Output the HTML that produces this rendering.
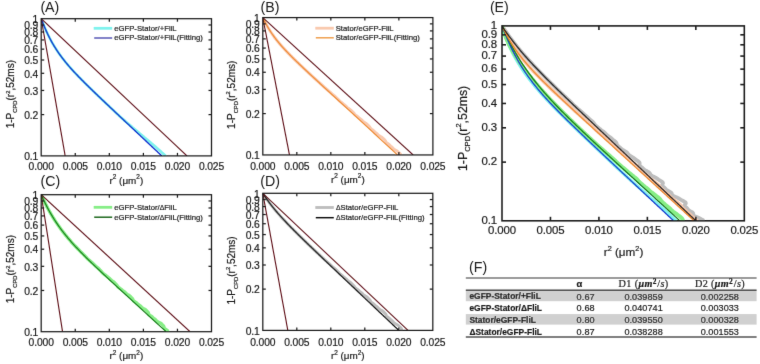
<!DOCTYPE html>
<html><head><meta charset="utf-8"><style>
html,body{margin:0;padding:0;background:#fff;}
body{width:760px;height:364px;overflow:hidden;font-family:"Liberation Sans", sans-serif;}
svg{display:block;will-change:transform;}
text{stroke:#1a1a1a;stroke-width:0.2px;}
</style></head><body><svg width="760" height="364" viewBox="0 0 760 364" font-family='"Liberation Sans", sans-serif' fill="#1a1a1a"><defs><filter id="soft" filterUnits="userSpaceOnUse" x="0" y="0" width="760" height="364"><feConvolveMatrix order="3" kernelMatrix="0.0049 0.0602 0.0049 0.0602 0.7396 0.0602 0.0049 0.0602 0.0049" edgeMode="none" preserveAlpha="false"/></filter></defs><rect width="760" height="364" fill="#fff"/><g filter="url(#soft)"><clipPath id="clipA"><rect x="41.20" y="17.70" width="170.30" height="138.20"/></clipPath><g clip-path="url(#clipA)"><path d="M41.20,18.70 L41.88,20.50 L42.56,22.25 L43.24,23.96 L43.92,25.62 L44.61,27.24 L45.29,28.82 L45.97,30.36 L46.65,31.85 L47.33,33.31 L48.01,34.73 L48.69,36.11 L49.37,37.46 L50.06,38.78 L50.74,40.06 L51.42,41.31 L52.10,42.54 L52.78,43.73 L53.46,44.89 L54.14,46.03 L54.82,47.15 L55.51,48.24 L56.19,49.31 L56.87,50.35 L57.55,51.37 L58.23,52.38 L58.91,53.36 L59.59,54.33 L60.27,55.28 L60.95,56.21 L61.64,57.12 L62.32,58.02 L63.00,58.91 L63.68,59.79 L64.36,60.65 L65.04,61.49 L65.72,62.33 L66.40,63.16 L67.09,63.97 L67.77,64.78 L68.45,65.58 L69.13,66.36 L69.81,67.14 L70.49,67.92 L71.17,68.68 L71.85,69.44 L72.54,70.19 L73.22,70.93 L73.90,71.67 L74.58,72.40 L75.26,73.13 L75.94,73.86 L76.62,74.57 L77.30,75.29 L77.98,76.00 L78.67,76.70 L79.35,77.40 L80.03,78.10 L80.71,78.80 L81.39,79.49 L82.07,80.18 L82.75,80.86 L83.43,81.54 L84.12,82.22 L84.80,82.90 L85.48,83.58 L86.16,84.25 L86.84,84.93 L87.52,85.60 L88.20,86.26 L88.88,86.93 L89.57,87.60 L90.25,88.26 L90.93,88.92 L91.61,89.58 L92.29,90.24 L92.97,90.90 L93.65,91.56 L94.33,92.22 L95.01,92.87 L95.70,93.53 L96.38,94.18 L97.06,94.83 L97.74,95.49 L98.42,96.14 L99.10,96.79 L99.78,97.44 L100.46,98.09 L101.15,98.74 L101.83,99.39 L102.51,100.03 L103.19,100.68 L103.87,101.33 L104.55,101.97 L105.23,102.62 L105.91,103.27 L106.60,103.91 L107.28,104.56 L107.96,105.20 L108.64,105.85 L109.32,106.49 L110.00,107.14 L110.68,107.78 L111.36,108.42 L112.04,109.07 L112.73,109.71 L113.41,110.35 L114.09,111.00 L114.77,111.64 L115.45,112.28 L116.13,112.92 L116.82,113.57 L117.50,114.21 L118.20,114.85 L118.90,115.49 L119.60,116.14 L120.30,116.78 L121.01,117.42 L121.73,118.06 L122.45,118.70 L123.17,119.34 L123.89,119.98 L124.62,120.63 L125.36,121.27 L126.09,121.91 L126.83,122.55 L127.57,123.19 L128.31,123.83 L129.06,124.47 L129.81,125.11 L130.56,125.75 L131.31,126.39 L132.06,127.03 L132.82,127.67 L133.58,128.32 L134.34,128.96 L135.10,129.60 L135.86,130.24 L136.62,130.88 L137.38,131.52 L138.15,132.16 L138.91,132.80 L139.67,133.44 L140.44,134.08 L141.20,134.72 L141.97,135.36 L142.73,136.00 L143.50,136.64 L144.26,137.28 L145.03,137.92 L145.79,138.56 L146.55,139.20 L147.31,139.84 L148.07,140.48 L148.83,141.12 L149.58,141.76 L150.34,142.40 L151.09,143.04 L151.84,143.68 L152.59,144.32 L153.33,144.96 L154.08,145.60 L154.82,146.24 L155.56,146.88 L156.29,147.52 L157.02,148.16 L157.75,148.80 L158.48,149.44 L159.20,150.08 L159.92,150.72 L160.63,151.36 L161.34,152.00 L162.05,152.64 L162.75,153.28 L163.45,153.92 L164.15,154.56 L164.83,155.20 L165.52,155.84 L165.58,155.90" fill="none" stroke="#7ff3ee" stroke-width="2.7" stroke-linejoin="round"/><path d="M41.20,18.70 L41.88,20.50 L42.56,22.25 L43.24,23.96 L43.92,25.62 L44.61,27.24 L45.29,28.82 L45.97,30.36 L46.65,31.85 L47.33,33.31 L48.01,34.73 L48.69,36.11 L49.37,37.46 L50.06,38.78 L50.74,40.06 L51.42,41.31 L52.10,42.54 L52.78,43.73 L53.46,44.89 L54.14,46.03 L54.82,47.15 L55.51,48.24 L56.19,49.31 L56.87,50.35 L57.55,51.37 L58.23,52.38 L58.91,53.36 L59.59,54.33 L60.27,55.28 L60.95,56.21 L61.64,57.12 L62.32,58.02 L63.00,58.91 L63.68,59.79 L64.36,60.65 L65.04,61.49 L65.72,62.33 L66.40,63.16 L67.09,63.97 L67.77,64.78 L68.45,65.58 L69.13,66.36 L69.81,67.14 L70.49,67.92 L71.17,68.68 L71.85,69.44 L72.54,70.19 L73.22,70.93 L73.90,71.67 L74.58,72.40 L75.26,73.13 L75.94,73.86 L76.62,74.57 L77.30,75.29 L77.98,76.00 L78.67,76.70 L79.35,77.40 L80.03,78.10 L80.71,78.80 L81.39,79.49 L82.07,80.18 L82.75,80.86 L83.43,81.54 L84.12,82.22 L84.80,82.90 L85.48,83.58 L86.16,84.25 L86.84,84.93 L87.52,85.60 L88.20,86.26 L88.88,86.93 L89.57,87.60 L90.25,88.26 L90.93,88.92 L91.61,89.58 L92.29,90.24 L92.97,90.90 L93.65,91.56 L94.33,92.22 L95.01,92.87 L95.70,93.53 L96.38,94.18 L97.06,94.83 L97.74,95.49 L98.42,96.14 L99.10,96.79 L99.78,97.44 L100.46,98.09 L101.15,98.74 L101.83,99.39 L102.51,100.03 L103.19,100.68 L103.87,101.33 L104.55,101.97 L105.23,102.62 L105.91,103.27 L106.60,103.91 L107.28,104.56 L107.96,105.20 L108.64,105.85 L109.32,106.49 L110.00,107.14 L110.68,107.78 L111.36,108.42 L112.04,109.07 L112.73,109.71 L113.41,110.35 L114.09,111.00 L114.77,111.64 L115.45,112.28 L116.13,112.92 L116.81,113.57 L117.49,114.21 L118.18,114.85 L118.86,115.49 L119.54,116.14 L120.22,116.78 L120.90,117.42 L121.58,118.06 L122.26,118.70 L122.94,119.34 L123.63,119.98 L124.31,120.63 L124.99,121.27 L125.67,121.91 L126.35,122.55 L127.03,123.19 L127.71,123.83 L128.39,124.47 L129.07,125.11 L129.76,125.75 L130.44,126.39 L131.12,127.03 L131.80,127.67 L132.48,128.32 L133.16,128.96 L133.84,129.60 L134.52,130.24 L135.21,130.88 L135.89,131.52 L136.57,132.16 L137.25,132.80 L137.93,133.44 L138.61,134.08 L139.29,134.72 L139.97,135.36 L140.66,136.00 L141.34,136.64 L142.02,137.28 L142.70,137.92 L143.38,138.56 L144.06,139.20 L144.74,139.84 L145.42,140.48 L146.10,141.12 L146.79,141.76 L147.47,142.40 L148.15,143.04 L148.83,143.68 L149.51,144.32 L150.19,144.96 L150.87,145.60 L151.55,146.24 L152.24,146.88 L152.92,147.52 L153.60,148.16 L154.28,148.80 L154.96,149.44 L155.64,150.08 L156.32,150.72 L157.00,151.36 L157.69,152.00 L158.37,152.64 L159.05,153.28 L159.73,153.92 L160.41,154.56 L161.09,155.20 L161.77,155.84 L161.83,155.90" fill="none" stroke="#0c2cd0" stroke-width="1.40"/><line x1="41.20" y1="18.70" x2="65.18" y2="155.90" stroke="#5e1016" stroke-width="1.1"/><line x1="41.20" y1="18.70" x2="186.98" y2="155.90" stroke="#5e1016" stroke-width="1.1"/></g><line x1="93.70" y1="28.30" x2="112.20" y2="28.30" stroke="#7ff3ee" stroke-width="2.8"/><line x1="94.20" y1="38.00" x2="112.20" y2="38.00" stroke="#5a5ab6" stroke-width="1.5"/><g font-size="8.1"><text transform="translate(114.20,30.70) scale(0.955,1)">eGFP-Stator/+FliL</text><text transform="translate(114.20,40.40) scale(0.955,1)">eGFP-Stator/+FliL(Fitting)</text></g><g stroke="#1e1e1e" stroke-width="1.25"><line x1="75.26" y1="155.90" x2="75.26" y2="152.90"/><line x1="75.26" y1="18.70" x2="75.26" y2="21.70"/><line x1="109.32" y1="155.90" x2="109.32" y2="152.90"/><line x1="109.32" y1="18.70" x2="109.32" y2="21.70"/><line x1="143.38" y1="155.90" x2="143.38" y2="152.90"/><line x1="143.38" y1="18.70" x2="143.38" y2="21.70"/><line x1="177.44" y1="155.90" x2="177.44" y2="152.90"/><line x1="177.44" y1="18.70" x2="177.44" y2="21.70"/><line x1="41.20" y1="114.60" x2="44.20" y2="114.60"/><line x1="211.50" y1="114.60" x2="208.50" y2="114.60"/><line x1="41.20" y1="90.44" x2="44.20" y2="90.44"/><line x1="211.50" y1="90.44" x2="208.50" y2="90.44"/><line x1="41.20" y1="73.30" x2="44.20" y2="73.30"/><line x1="211.50" y1="73.30" x2="208.50" y2="73.30"/><line x1="41.20" y1="60.00" x2="44.20" y2="60.00"/><line x1="211.50" y1="60.00" x2="208.50" y2="60.00"/><line x1="41.20" y1="49.14" x2="44.20" y2="49.14"/><line x1="211.50" y1="49.14" x2="208.50" y2="49.14"/><line x1="41.20" y1="39.95" x2="44.20" y2="39.95"/><line x1="211.50" y1="39.95" x2="208.50" y2="39.95"/><line x1="41.20" y1="32.00" x2="44.20" y2="32.00"/><line x1="211.50" y1="32.00" x2="208.50" y2="32.00"/><line x1="41.20" y1="24.98" x2="44.20" y2="24.98"/><line x1="211.50" y1="24.98" x2="208.50" y2="24.98"/><rect x="41.20" y="18.70" width="170.30" height="137.20" fill="none"/></g><g font-size="10.30" letter-spacing="-0.12"><text x="38.12" y="22.91" text-anchor="end">1</text><text x="38.12" y="29.19" text-anchor="end">0.9</text><text x="38.12" y="36.20" text-anchor="end">0.8</text><text x="38.12" y="44.16" text-anchor="end">0.7</text><text x="38.12" y="53.35" text-anchor="end">0.6</text><text x="38.12" y="64.21" text-anchor="end">0.5</text><text x="38.12" y="77.51" text-anchor="end">0.4</text><text x="38.12" y="94.65" text-anchor="end">0.3</text><text x="38.12" y="118.81" text-anchor="end">0.2</text><text x="38.12" y="160.11" text-anchor="end">0.1</text><text x="41.20" y="170.00" text-anchor="middle">0.000</text><text x="75.26" y="170.00" text-anchor="middle">0.005</text><text x="109.32" y="170.00" text-anchor="middle">0.010</text><text x="143.38" y="170.00" text-anchor="middle">0.015</text><text x="177.44" y="170.00" text-anchor="middle">0.020</text><text x="211.50" y="170.00" text-anchor="middle">0.025</text></g><text x="40.40" y="11.80" font-size="14.2" style="stroke:none">(A)</text><text transform="translate(14.00,128.30) rotate(-90)" font-size="10.00">1-P<tspan font-size="5.80" dy="3.00">CPD</tspan><tspan dy="-3.00">(r</tspan><tspan font-size="5.80" dy="-4.20">2</tspan><tspan dy="4.20">,52ms)</tspan></text><text x="126.35" y="183.50" font-size="9.90" text-anchor="middle">r<tspan font-size="6.40" dy="-4.16">2</tspan><tspan dy="4.16"> (μm</tspan><tspan font-size="6.40" dy="-4.16">2</tspan><tspan dy="4.16">)</tspan></text><clipPath id="clipB"><rect x="262.80" y="16.60" width="170.10" height="138.35"/></clipPath><g clip-path="url(#clipB)"><path d="M262.80,17.60 L263.48,19.03 L264.16,20.41 L264.84,21.75 L265.52,23.05 L266.20,24.31 L266.88,25.54 L267.56,26.73 L268.24,27.89 L268.92,29.02 L269.60,30.11 L270.28,31.19 L270.96,32.23 L271.65,33.25 L272.33,34.24 L273.01,35.21 L273.69,36.17 L274.37,37.10 L275.05,38.01 L275.73,38.90 L276.41,39.78 L277.09,40.64 L277.77,41.49 L278.45,42.32 L279.13,43.14 L279.81,43.95 L280.49,44.75 L281.17,45.53 L281.85,46.31 L282.53,47.07 L283.21,47.83 L283.89,48.58 L284.57,49.32 L285.25,50.05 L285.93,50.77 L286.61,51.49 L287.29,52.21 L287.97,52.91 L288.66,53.62 L289.34,54.31 L290.02,55.01 L290.70,55.69 L291.38,56.38 L292.06,57.06 L292.74,57.74 L293.42,58.41 L294.10,59.08 L294.78,59.75 L295.46,60.41 L296.14,61.07 L296.82,61.73 L297.50,62.39 L298.18,63.04 L298.86,63.70 L299.54,64.35 L300.22,65.00 L300.90,65.65 L301.58,66.29 L302.26,66.94 L302.94,67.58 L303.62,68.23 L304.30,68.87 L304.99,69.51 L305.67,70.15 L306.35,70.79 L307.04,71.43 L307.72,72.06 L308.40,72.70 L309.09,73.34 L309.77,73.97 L310.47,74.61 L311.16,75.24 L311.85,75.87 L312.55,76.51 L313.24,77.14 L313.94,77.77 L314.64,78.40 L315.33,79.03 L316.02,79.66 L316.71,80.29 L317.42,80.92 L318.14,81.55 L318.85,82.18 L319.54,82.81 L320.23,83.44 L320.91,84.07 L321.61,84.70 L322.29,85.33 L322.95,85.96 L323.61,86.59 L324.28,87.21 L325.00,87.84 L325.74,88.47 L326.49,89.10 L327.21,89.72 L327.92,90.35 L328.64,90.98 L329.38,91.61 L330.11,92.23 L330.80,92.86 L331.47,93.49 L332.17,94.11 L332.93,94.74 L333.71,95.37 L334.47,95.99 L335.18,96.62 L335.84,97.25 L336.51,97.87 L337.20,98.50 L337.86,99.13 L338.46,99.75 L339.04,100.38 L339.68,101.01 L340.42,101.63 L341.22,102.26 L342.02,102.89 L342.76,103.51 L343.47,104.14 L344.22,104.76 L345.00,105.39 L345.76,106.02 L346.44,106.64 L347.09,107.27 L347.79,107.90 L348.62,108.52 L349.50,109.15 L350.33,109.77 L351.04,110.40 L351.68,111.03 L352.33,111.65 L353.00,112.28 L353.62,112.90 L354.14,113.53 L354.62,114.16 L355.19,114.78 L355.94,115.41 L356.80,116.03 L357.64,116.66 L358.37,117.29 L359.07,117.91 L359.82,118.54 L360.63,119.16 L361.41,119.79 L362.07,120.42 L362.68,121.04 L363.40,121.67 L364.30,122.29 L365.29,122.92 L366.20,123.55 L366.93,124.17 L367.56,124.80 L368.20,125.42 L368.86,126.05 L369.44,126.68 L369.87,127.30 L370.24,127.93 L370.74,128.55 L371.49,129.18 L372.38,129.81 L373.22,130.43 L373.93,131.06 L374.58,131.68 L375.32,132.31 L376.13,132.94 L376.90,133.56 L377.53,134.19 L378.11,134.81 L378.83,135.44 L379.80,136.07 L380.89,136.69 L381.87,137.32 L382.63,137.94 L383.26,138.57 L383.90,139.19 L384.57,139.82 L385.13,140.45 L385.50,141.07 L385.78,141.70 L386.23,142.32 L386.95,142.95 L387.85,143.58 L388.67,144.20 L389.33,144.83 L389.93,145.45 L390.61,146.08 L391.40,146.71 L392.14,147.33 L392.73,147.96 L393.27,148.58 L393.98,149.21 L394.98,149.84 L396.13,150.46 L397.15,151.09 L397.94,151.71 L398.58,152.34 L399.23,152.97 L399.91,153.59 L400.47,154.22 L400.82,154.84 L400.86,154.95" fill="none" stroke="#f9c9ae" stroke-width="3.0" stroke-linejoin="round"/><path d="M262.80,17.60 L263.48,19.03 L264.16,20.41 L264.84,21.75 L265.52,23.05 L266.20,24.31 L266.88,25.54 L267.56,26.73 L268.24,27.89 L268.92,29.02 L269.60,30.11 L270.28,31.19 L270.96,32.23 L271.65,33.25 L272.33,34.24 L273.01,35.21 L273.69,36.17 L274.37,37.10 L275.05,38.01 L275.73,38.90 L276.41,39.78 L277.09,40.64 L277.77,41.49 L278.45,42.32 L279.13,43.14 L279.81,43.95 L280.49,44.75 L281.17,45.53 L281.85,46.31 L282.53,47.07 L283.21,47.83 L283.89,48.58 L284.57,49.32 L285.25,50.05 L285.93,50.77 L286.61,51.49 L287.29,52.21 L287.97,52.91 L288.66,53.62 L289.34,54.31 L290.02,55.01 L290.70,55.69 L291.38,56.38 L292.06,57.06 L292.74,57.74 L293.42,58.41 L294.10,59.08 L294.78,59.75 L295.46,60.41 L296.14,61.07 L296.82,61.73 L297.50,62.39 L298.18,63.04 L298.86,63.70 L299.54,64.35 L300.22,65.00 L300.90,65.65 L301.58,66.29 L302.26,66.94 L302.94,67.58 L303.62,68.23 L304.30,68.87 L304.98,69.51 L305.67,70.15 L306.35,70.79 L307.03,71.43 L307.71,72.06 L308.39,72.70 L309.07,73.34 L309.75,73.97 L310.43,74.61 L311.11,75.24 L311.79,75.87 L312.47,76.51 L313.15,77.14 L313.83,77.77 L314.51,78.40 L315.19,79.03 L315.87,79.66 L316.55,80.29 L317.23,80.92 L317.91,81.55 L318.59,82.18 L319.27,82.81 L319.95,83.44 L320.63,84.07 L321.31,84.70 L321.99,85.33 L322.68,85.96 L323.36,86.59 L324.04,87.21 L324.72,87.84 L325.40,88.47 L326.08,89.10 L326.76,89.72 L327.44,90.35 L328.12,90.98 L328.80,91.61 L329.48,92.23 L330.16,92.86 L330.84,93.49 L331.52,94.11 L332.20,94.74 L332.88,95.37 L333.56,95.99 L334.24,96.62 L334.92,97.25 L335.60,97.87 L336.28,98.50 L336.96,99.13 L337.64,99.75 L338.32,100.38 L339.00,101.01 L339.69,101.63 L340.37,102.26 L341.05,102.89 L341.73,103.51 L342.41,104.14 L343.09,104.76 L343.77,105.39 L344.45,106.02 L345.13,106.64 L345.81,107.27 L346.49,107.90 L347.17,108.52 L347.85,109.15 L348.53,109.77 L349.21,110.40 L349.89,111.03 L350.57,111.65 L351.25,112.28 L351.93,112.90 L352.61,113.53 L353.29,114.16 L353.97,114.78 L354.65,115.41 L355.33,116.03 L356.01,116.66 L356.70,117.29 L357.38,117.91 L358.06,118.54 L358.74,119.16 L359.42,119.79 L360.10,120.42 L360.78,121.04 L361.46,121.67 L362.14,122.29 L362.82,122.92 L363.50,123.55 L364.18,124.17 L364.86,124.80 L365.54,125.42 L366.22,126.05 L366.90,126.68 L367.58,127.30 L368.26,127.93 L368.94,128.55 L369.62,129.18 L370.30,129.81 L370.98,130.43 L371.66,131.06 L372.34,131.68 L373.02,132.31 L373.71,132.94 L374.39,133.56 L375.07,134.19 L375.75,134.81 L376.43,135.44 L377.11,136.07 L377.79,136.69 L378.47,137.32 L379.15,137.94 L379.83,138.57 L380.51,139.19 L381.19,139.82 L381.87,140.45 L382.55,141.07 L383.23,141.70 L383.91,142.32 L384.59,142.95 L385.27,143.58 L385.95,144.20 L386.63,144.83 L387.31,145.45 L387.99,146.08 L388.67,146.71 L389.35,147.33 L390.03,147.96 L390.72,148.58 L391.40,149.21 L392.08,149.84 L392.76,150.46 L393.44,151.09 L394.12,151.71 L394.80,152.34 L395.48,152.97 L396.16,153.59 L396.84,154.22 L397.52,154.84 L397.64,154.95" fill="none" stroke="#ee8a2c" stroke-width="1.20"/><line x1="262.80" y1="17.60" x2="289.47" y2="154.95" stroke="#5e1016" stroke-width="1.1"/><line x1="262.80" y1="17.60" x2="413.17" y2="154.95" stroke="#5e1016" stroke-width="1.1"/></g><line x1="315.30" y1="28.20" x2="333.80" y2="28.20" stroke="#f9c9ae" stroke-width="2.8"/><line x1="315.80" y1="37.80" x2="333.80" y2="37.80" stroke="#f0a050" stroke-width="1.5"/><g font-size="8.1"><text transform="translate(335.70,30.60) scale(0.955,1)">Stator/eGFP-FliL</text><text transform="translate(335.70,40.20) scale(0.955,1)">Stator/eGFP-FliL(Fitting)</text></g><g stroke="#1e1e1e" stroke-width="1.25"><line x1="296.82" y1="154.95" x2="296.82" y2="151.95"/><line x1="296.82" y1="17.60" x2="296.82" y2="20.60"/><line x1="330.84" y1="154.95" x2="330.84" y2="151.95"/><line x1="330.84" y1="17.60" x2="330.84" y2="20.60"/><line x1="364.86" y1="154.95" x2="364.86" y2="151.95"/><line x1="364.86" y1="17.60" x2="364.86" y2="20.60"/><line x1="398.88" y1="154.95" x2="398.88" y2="151.95"/><line x1="398.88" y1="17.60" x2="398.88" y2="20.60"/><line x1="262.80" y1="113.60" x2="265.80" y2="113.60"/><line x1="432.90" y1="113.60" x2="429.90" y2="113.60"/><line x1="262.80" y1="89.42" x2="265.80" y2="89.42"/><line x1="432.90" y1="89.42" x2="429.90" y2="89.42"/><line x1="262.80" y1="72.26" x2="265.80" y2="72.26"/><line x1="432.90" y1="72.26" x2="429.90" y2="72.26"/><line x1="262.80" y1="58.95" x2="265.80" y2="58.95"/><line x1="432.90" y1="58.95" x2="429.90" y2="58.95"/><line x1="262.80" y1="48.07" x2="265.80" y2="48.07"/><line x1="432.90" y1="48.07" x2="429.90" y2="48.07"/><line x1="262.80" y1="38.88" x2="265.80" y2="38.88"/><line x1="432.90" y1="38.88" x2="429.90" y2="38.88"/><line x1="262.80" y1="30.91" x2="265.80" y2="30.91"/><line x1="432.90" y1="30.91" x2="429.90" y2="30.91"/><line x1="262.80" y1="23.88" x2="265.80" y2="23.88"/><line x1="432.90" y1="23.88" x2="429.90" y2="23.88"/><rect x="262.80" y="17.60" width="170.10" height="137.35" fill="none"/></g><g font-size="10.30" letter-spacing="-0.12"><text x="259.72" y="21.81" text-anchor="end">1</text><text x="259.72" y="28.09" text-anchor="end">0.9</text><text x="259.72" y="35.12" text-anchor="end">0.8</text><text x="259.72" y="43.08" text-anchor="end">0.7</text><text x="259.72" y="52.28" text-anchor="end">0.6</text><text x="259.72" y="63.15" text-anchor="end">0.5</text><text x="259.72" y="76.47" text-anchor="end">0.4</text><text x="259.72" y="93.63" text-anchor="end">0.3</text><text x="259.72" y="117.81" text-anchor="end">0.2</text><text x="259.72" y="159.16" text-anchor="end">0.1</text><text x="262.80" y="170.00" text-anchor="middle">0.000</text><text x="296.82" y="170.00" text-anchor="middle">0.005</text><text x="330.84" y="170.00" text-anchor="middle">0.010</text><text x="364.86" y="170.00" text-anchor="middle">0.015</text><text x="398.88" y="170.00" text-anchor="middle">0.020</text><text x="432.90" y="170.00" text-anchor="middle">0.025</text></g><text x="260.60" y="11.80" font-size="14.2" style="stroke:none">(B)</text><text transform="translate(234.60,128.90) rotate(-90)" font-size="10.00">1-P<tspan font-size="5.80" dy="3.00">CPD</tspan><tspan dy="-3.00">(r</tspan><tspan font-size="5.80" dy="-4.20">2</tspan><tspan dy="4.20">,52ms)</tspan></text><text x="347.85" y="182.60" font-size="9.90" text-anchor="middle">r<tspan font-size="6.40" dy="-4.16">2</tspan><tspan dy="4.16"> (μm</tspan><tspan font-size="6.40" dy="-4.16">2</tspan><tspan dy="4.16">)</tspan></text><clipPath id="clipC"><rect x="41.20" y="193.70" width="170.30" height="138.00"/></clipPath><g clip-path="url(#clipC)"><path d="M41.20,194.70 L41.88,196.23 L42.56,197.73 L43.24,199.19 L43.92,200.63 L44.61,202.05 L45.29,203.43 L45.97,204.79 L46.65,206.12 L47.33,207.43 L48.01,208.71 L48.69,209.96 L49.37,211.20 L50.06,212.41 L50.74,213.60 L51.42,214.76 L52.10,215.91 L52.78,217.03 L53.46,218.14 L54.14,219.22 L54.82,220.29 L55.51,221.34 L56.19,222.37 L56.87,223.39 L57.55,224.39 L58.23,225.37 L58.91,226.34 L59.59,227.29 L60.27,228.23 L60.95,229.16 L61.64,230.08 L62.32,230.98 L63.00,231.87 L63.68,232.74 L64.37,233.61 L65.05,234.47 L65.74,235.31 L66.42,236.15 L67.11,236.98 L67.80,237.79 L68.48,238.60 L69.17,239.40 L69.85,240.20 L70.54,240.98 L71.22,241.76 L71.89,242.53 L72.57,243.29 L73.27,244.05 L73.98,244.80 L74.69,245.55 L75.40,246.29 L76.10,247.02 L76.80,247.75 L77.52,248.48 L78.22,249.20 L78.91,249.91 L79.58,250.63 L80.26,251.33 L80.97,252.04 L81.71,252.74 L82.43,253.43 L83.11,254.12 L83.78,254.81 L84.45,255.50 L85.13,256.18 L85.79,256.86 L86.43,257.54 L87.04,258.22 L87.70,258.89 L88.44,259.56 L89.23,260.23 L90.01,260.89 L90.75,261.56 L91.47,262.22 L92.21,262.88 L92.98,263.54 L93.71,264.19 L94.38,264.85 L95.01,265.50 L95.69,266.15 L96.46,266.80 L97.28,267.45 L98.05,268.10 L98.73,268.75 L99.35,269.39 L99.98,270.04 L100.64,270.68 L101.27,271.32 L101.80,271.96 L102.31,272.60 L102.92,273.24 L103.69,273.88 L104.57,274.52 L105.44,275.16 L106.21,275.79 L106.93,276.43 L107.71,277.06 L108.53,277.70 L109.30,278.33 L109.95,278.96 L110.54,279.60 L111.22,280.23 L112.07,280.86 L113.01,281.49 L113.86,282.12 L114.54,282.75 L115.12,283.38 L115.71,284.01 L116.34,284.64 L116.90,285.27 L117.32,285.90 L117.68,286.53 L118.21,287.15 L119.00,287.78 L119.96,288.41 L120.88,289.04 L121.66,289.66 L122.37,290.29 L123.17,290.92 L124.04,291.54 L124.85,292.17 L125.48,292.79 L126.03,293.42 L126.72,294.04 L127.67,294.67 L128.75,295.29 L129.71,295.92 L130.40,296.54 L130.94,297.17 L131.51,297.79 L132.12,298.42 L132.63,299.04 L132.92,299.67 L133.13,300.29 L133.56,300.91 L134.35,301.54 L135.36,302.16 L136.31,302.78 L137.06,303.41 L137.73,304.03 L138.51,304.65 L139.41,305.28 L140.23,305.90 L140.84,306.52 L141.35,307.15 L142.06,307.77 L143.12,308.39 L144.34,309.02 L145.40,309.64 L146.13,310.26 L146.67,310.88 L147.24,311.51 L147.85,312.13 L148.31,312.75 L148.51,313.37 L148.60,314.00 L148.94,314.62 L149.70,315.24 L150.73,315.86 L151.66,316.49 L152.36,317.11 L152.96,317.73 L153.71,318.35 L154.59,318.98 L155.40,319.60 L155.96,320.22 L156.44,320.84 L157.17,321.46 L158.30,322.09 L159.63,322.71 L160.77,323.33 L161.55,323.95 L162.12,324.57 L162.71,325.20 L163.34,325.82 L163.80,326.44 L163.95,327.06 L163.98,327.68 L164.26,328.31 L165.00,328.93 L166.00,329.55 L166.89,330.17 L167.52,330.79 L168.05,331.42 L168.33,331.70" fill="none" stroke="#86ee86" stroke-width="3.4" stroke-linejoin="round"/><path d="M41.20,194.70 L41.88,196.23 L42.56,197.73 L43.24,199.19 L43.92,200.63 L44.61,202.05 L45.29,203.43 L45.97,204.79 L46.65,206.12 L47.33,207.43 L48.01,208.71 L48.69,209.96 L49.37,211.20 L50.06,212.41 L50.74,213.60 L51.42,214.76 L52.10,215.91 L52.78,217.03 L53.46,218.14 L54.14,219.22 L54.82,220.29 L55.51,221.34 L56.19,222.37 L56.87,223.39 L57.55,224.39 L58.23,225.37 L58.91,226.34 L59.59,227.29 L60.27,228.23 L60.95,229.16 L61.64,230.08 L62.32,230.98 L63.00,231.87 L63.68,232.74 L64.36,233.61 L65.04,234.47 L65.72,235.31 L66.40,236.15 L67.09,236.98 L67.77,237.79 L68.45,238.60 L69.13,239.40 L69.81,240.20 L70.49,240.98 L71.17,241.76 L71.85,242.53 L72.54,243.29 L73.22,244.05 L73.90,244.80 L74.58,245.55 L75.26,246.29 L75.94,247.02 L76.62,247.75 L77.30,248.48 L77.98,249.20 L78.67,249.91 L79.35,250.63 L80.03,251.33 L80.71,252.04 L81.39,252.74 L82.07,253.43 L82.75,254.12 L83.43,254.81 L84.12,255.50 L84.80,256.18 L85.48,256.86 L86.16,257.54 L86.84,258.22 L87.52,258.89 L88.20,259.56 L88.88,260.23 L89.57,260.89 L90.25,261.56 L90.93,262.22 L91.61,262.88 L92.29,263.54 L92.97,264.19 L93.65,264.85 L94.33,265.50 L95.01,266.15 L95.70,266.80 L96.38,267.45 L97.06,268.10 L97.74,268.75 L98.42,269.39 L99.10,270.04 L99.78,270.68 L100.46,271.32 L101.15,271.96 L101.83,272.60 L102.51,273.24 L103.19,273.88 L103.87,274.52 L104.55,275.16 L105.23,275.79 L105.91,276.43 L106.60,277.06 L107.28,277.70 L107.96,278.33 L108.64,278.96 L109.32,279.60 L110.00,280.23 L110.68,280.86 L111.36,281.49 L112.04,282.12 L112.73,282.75 L113.41,283.38 L114.09,284.01 L114.77,284.64 L115.45,285.27 L116.13,285.90 L116.81,286.53 L117.49,287.15 L118.18,287.78 L118.86,288.41 L119.54,289.04 L120.22,289.66 L120.90,290.29 L121.58,290.92 L122.26,291.54 L122.94,292.17 L123.63,292.79 L124.31,293.42 L124.99,294.04 L125.67,294.67 L126.35,295.29 L127.03,295.92 L127.71,296.54 L128.39,297.17 L129.07,297.79 L129.76,298.42 L130.44,299.04 L131.12,299.67 L131.80,300.29 L132.48,300.91 L133.16,301.54 L133.84,302.16 L134.52,302.78 L135.21,303.41 L135.89,304.03 L136.57,304.65 L137.25,305.28 L137.93,305.90 L138.61,306.52 L139.29,307.15 L139.97,307.77 L140.66,308.39 L141.34,309.02 L142.02,309.64 L142.70,310.26 L143.38,310.88 L144.06,311.51 L144.74,312.13 L145.42,312.75 L146.10,313.37 L146.79,314.00 L147.47,314.62 L148.15,315.24 L148.83,315.86 L149.51,316.49 L150.19,317.11 L150.87,317.73 L151.55,318.35 L152.24,318.98 L152.92,319.60 L153.60,320.22 L154.28,320.84 L154.96,321.46 L155.64,322.09 L156.32,322.71 L157.00,323.33 L157.69,323.95 L158.37,324.57 L159.05,325.20 L159.73,325.82 L160.41,326.44 L161.09,327.06 L161.77,327.68 L162.45,328.31 L163.13,328.93 L163.82,329.55 L164.50,330.17 L165.18,330.79 L165.86,331.42 L166.17,331.70" fill="none" stroke="#0c7810" stroke-width="1.15"/><line x1="41.20" y1="194.70" x2="62.52" y2="331.70" stroke="#5e1016" stroke-width="1.1"/><line x1="41.20" y1="194.70" x2="190.04" y2="331.70" stroke="#5e1016" stroke-width="1.1"/></g><line x1="93.70" y1="207.30" x2="112.20" y2="207.30" stroke="#86ee86" stroke-width="2.8"/><line x1="94.20" y1="217.20" x2="112.20" y2="217.20" stroke="#1c6a1c" stroke-width="1.5"/><g font-size="8.1"><text transform="translate(114.20,209.70) scale(0.955,1)">eGFP-Stator/<tspan font-size="7.2">Δ</tspan>FliL</text><text transform="translate(114.20,219.60) scale(0.955,1)">eGFP-Stator/<tspan font-size="7.2">Δ</tspan>FliL(Fitting)</text></g><g stroke="#1e1e1e" stroke-width="1.25"><line x1="75.26" y1="331.70" x2="75.26" y2="328.70"/><line x1="75.26" y1="194.70" x2="75.26" y2="197.70"/><line x1="109.32" y1="331.70" x2="109.32" y2="328.70"/><line x1="109.32" y1="194.70" x2="109.32" y2="197.70"/><line x1="143.38" y1="331.70" x2="143.38" y2="328.70"/><line x1="143.38" y1="194.70" x2="143.38" y2="197.70"/><line x1="177.44" y1="331.70" x2="177.44" y2="328.70"/><line x1="177.44" y1="194.70" x2="177.44" y2="197.70"/><line x1="41.20" y1="290.46" x2="44.20" y2="290.46"/><line x1="211.50" y1="290.46" x2="208.50" y2="290.46"/><line x1="41.20" y1="266.33" x2="44.20" y2="266.33"/><line x1="211.50" y1="266.33" x2="208.50" y2="266.33"/><line x1="41.20" y1="249.22" x2="44.20" y2="249.22"/><line x1="211.50" y1="249.22" x2="208.50" y2="249.22"/><line x1="41.20" y1="235.94" x2="44.20" y2="235.94"/><line x1="211.50" y1="235.94" x2="208.50" y2="235.94"/><line x1="41.20" y1="225.09" x2="44.20" y2="225.09"/><line x1="211.50" y1="225.09" x2="208.50" y2="225.09"/><line x1="41.20" y1="215.92" x2="44.20" y2="215.92"/><line x1="211.50" y1="215.92" x2="208.50" y2="215.92"/><line x1="41.20" y1="207.98" x2="44.20" y2="207.98"/><line x1="211.50" y1="207.98" x2="208.50" y2="207.98"/><line x1="41.20" y1="200.97" x2="44.20" y2="200.97"/><line x1="211.50" y1="200.97" x2="208.50" y2="200.97"/><rect x="41.20" y="194.70" width="170.30" height="137.00" fill="none"/></g><g font-size="10.30" letter-spacing="-0.12"><text x="38.12" y="198.91" text-anchor="end">1</text><text x="38.12" y="205.18" text-anchor="end">0.9</text><text x="38.12" y="212.18" text-anchor="end">0.8</text><text x="38.12" y="220.13" text-anchor="end">0.7</text><text x="38.12" y="229.30" text-anchor="end">0.6</text><text x="38.12" y="240.15" text-anchor="end">0.5</text><text x="38.12" y="253.43" text-anchor="end">0.4</text><text x="38.12" y="270.54" text-anchor="end">0.3</text><text x="38.12" y="294.67" text-anchor="end">0.2</text><text x="38.12" y="335.91" text-anchor="end">0.1</text><text x="41.20" y="345.90" text-anchor="middle">0.000</text><text x="75.26" y="345.90" text-anchor="middle">0.005</text><text x="109.32" y="345.90" text-anchor="middle">0.010</text><text x="143.38" y="345.90" text-anchor="middle">0.015</text><text x="177.44" y="345.90" text-anchor="middle">0.020</text><text x="211.50" y="345.90" text-anchor="middle">0.025</text></g><text x="40.60" y="185.70" font-size="14.2" style="stroke:none">(C)</text><text transform="translate(14.00,303.30) rotate(-90)" font-size="10.00">1-P<tspan font-size="5.80" dy="3.00">CPD</tspan><tspan dy="-3.00">(r</tspan><tspan font-size="5.80" dy="-4.20">2</tspan><tspan dy="4.20">,52ms)</tspan></text><text x="126.35" y="359.30" font-size="9.90" text-anchor="middle">r<tspan font-size="6.40" dy="-4.16">2</tspan><tspan dy="4.16"> (μm</tspan><tspan font-size="6.40" dy="-4.16">2</tspan><tspan dy="4.16">)</tspan></text><clipPath id="clipD"><rect x="262.80" y="192.30" width="170.00" height="138.10"/></clipPath><g clip-path="url(#clipD)"><path d="M262.80,193.30 L263.48,194.35 L264.16,195.38 L264.84,196.39 L265.52,197.38 L266.20,198.36 L266.88,199.32 L267.56,200.27 L268.24,201.20 L268.92,202.12 L269.60,203.02 L270.28,203.92 L270.96,204.80 L271.64,205.67 L272.32,206.53 L273.00,207.38 L273.68,208.21 L274.36,209.04 L275.04,209.86 L275.72,210.67 L276.40,211.48 L277.08,212.27 L277.76,213.06 L278.44,213.84 L279.12,214.61 L279.80,215.38 L280.48,216.14 L281.16,216.90 L281.84,217.65 L282.52,218.39 L283.20,219.13 L283.88,219.87 L284.56,220.60 L285.24,221.32 L285.92,222.04 L286.60,222.76 L287.28,223.47 L287.96,224.18 L288.64,224.89 L289.32,225.59 L290.00,226.29 L290.68,226.99 L291.36,227.69 L292.04,228.38 L292.72,229.07 L293.40,229.75 L294.08,230.44 L294.76,231.12 L295.44,231.80 L296.12,232.48 L296.80,233.16 L297.48,233.84 L298.16,234.51 L298.84,235.18 L299.52,235.85 L300.20,236.52 L300.88,237.19 L301.56,237.86 L302.24,238.52 L302.92,239.19 L303.60,239.85 L304.28,240.51 L304.96,241.18 L305.65,241.84 L306.33,242.50 L307.01,243.15 L307.70,243.81 L308.38,244.47 L309.06,245.13 L309.75,245.78 L310.45,246.44 L311.14,247.09 L311.84,247.75 L312.53,248.40 L313.23,249.05 L313.93,249.71 L314.64,250.36 L315.33,251.01 L316.02,251.66 L316.71,252.31 L317.42,252.96 L318.15,253.61 L318.86,254.26 L319.56,254.91 L320.25,255.56 L320.93,256.21 L321.63,256.86 L322.31,257.51 L322.97,258.16 L323.62,258.80 L324.29,259.45 L325.01,260.10 L325.77,260.75 L326.53,261.39 L327.26,262.04 L327.97,262.69 L328.71,263.33 L329.46,263.98 L330.19,264.63 L330.89,265.27 L331.56,265.92 L332.26,266.56 L333.03,267.21 L333.84,267.86 L334.61,268.50 L335.32,269.15 L335.98,269.79 L336.65,270.44 L337.33,271.08 L337.99,271.73 L338.57,272.37 L339.13,273.02 L339.75,273.66 L340.50,274.31 L341.34,274.95 L342.16,275.60 L342.91,276.24 L343.63,276.89 L344.39,277.53 L345.20,278.18 L345.97,278.82 L346.65,279.46 L347.29,280.11 L348.00,280.75 L348.85,281.40 L349.78,282.04 L350.64,282.69 L351.36,283.33 L351.99,283.98 L352.63,284.62 L353.30,285.26 L353.91,285.91 L354.38,286.55 L354.81,287.20 L355.36,287.84 L356.13,288.48 L357.03,289.13 L357.90,289.77 L358.64,290.42 L359.34,291.06 L360.11,291.70 L360.95,292.35 L361.74,292.99 L362.40,293.64 L363.00,294.28 L363.72,294.92 L364.67,295.57 L365.74,296.21 L366.69,296.86 L367.43,297.50 L368.05,298.14 L368.68,298.79 L369.34,299.43 L369.90,300.07 L370.27,300.72 L370.57,301.36 L371.03,302.01 L371.79,302.65 L372.73,303.29 L373.61,303.94 L374.32,304.58 L374.97,305.23 L375.71,305.87 L376.56,306.51 L377.35,307.16 L377.97,307.80 L378.52,308.44 L379.25,309.09 L380.29,309.73 L381.47,310.38 L382.52,311.02 L383.30,311.66 L383.92,312.31 L384.55,312.95 L385.22,313.59 L385.75,314.24 L386.04,314.88 L386.24,315.53 L386.62,316.17 L387.36,316.81 L388.31,317.46 L389.17,318.10 L389.82,318.74 L390.40,319.39 L391.09,320.03 L391.90,320.67 L392.66,321.32 L393.22,321.96 L393.73,322.61 L394.45,323.25 L395.53,323.89 L396.79,324.54 L397.90,325.18 L398.71,325.82 L399.34,326.47 L399.99,327.11 L400.68,327.76 L401.21,328.40 L401.47,329.04 L401.62,329.69 L401.97,330.33 L402.03,330.40" fill="none" stroke="#bdbdbd" stroke-width="3.0" stroke-linejoin="round"/><path d="M262.80,193.30 L263.48,194.35 L264.16,195.38 L264.84,196.39 L265.52,197.38 L266.20,198.36 L266.88,199.32 L267.56,200.27 L268.24,201.20 L268.92,202.12 L269.60,203.02 L270.28,203.92 L270.96,204.80 L271.64,205.67 L272.32,206.53 L273.00,207.38 L273.68,208.21 L274.36,209.04 L275.04,209.86 L275.72,210.67 L276.40,211.48 L277.08,212.27 L277.76,213.06 L278.44,213.84 L279.12,214.61 L279.80,215.38 L280.48,216.14 L281.16,216.90 L281.84,217.65 L282.52,218.39 L283.20,219.13 L283.88,219.87 L284.56,220.60 L285.24,221.32 L285.92,222.04 L286.60,222.76 L287.28,223.47 L287.96,224.18 L288.64,224.89 L289.32,225.59 L290.00,226.29 L290.68,226.99 L291.36,227.69 L292.04,228.38 L292.72,229.07 L293.40,229.75 L294.08,230.44 L294.76,231.12 L295.44,231.80 L296.12,232.48 L296.80,233.16 L297.48,233.84 L298.16,234.51 L298.84,235.18 L299.52,235.85 L300.20,236.52 L300.88,237.19 L301.56,237.86 L302.24,238.52 L302.92,239.19 L303.60,239.85 L304.28,240.51 L304.96,241.18 L305.64,241.84 L306.32,242.50 L307.00,243.15 L307.68,243.81 L308.36,244.47 L309.04,245.13 L309.72,245.78 L310.40,246.44 L311.08,247.09 L311.76,247.75 L312.44,248.40 L313.12,249.05 L313.80,249.71 L314.48,250.36 L315.16,251.01 L315.84,251.66 L316.52,252.31 L317.20,252.96 L317.88,253.61 L318.56,254.26 L319.24,254.91 L319.92,255.56 L320.60,256.21 L321.28,256.86 L321.96,257.51 L322.64,258.16 L323.32,258.80 L324.00,259.45 L324.68,260.10 L325.36,260.75 L326.04,261.39 L326.72,262.04 L327.40,262.69 L328.08,263.33 L328.76,263.98 L329.44,264.63 L330.12,265.27 L330.80,265.92 L331.48,266.56 L332.16,267.21 L332.84,267.86 L333.52,268.50 L334.20,269.15 L334.88,269.79 L335.56,270.44 L336.24,271.08 L336.92,271.73 L337.60,272.37 L338.28,273.02 L338.96,273.66 L339.64,274.31 L340.32,274.95 L341.00,275.60 L341.68,276.24 L342.36,276.89 L343.04,277.53 L343.72,278.18 L344.40,278.82 L345.08,279.46 L345.76,280.11 L346.44,280.75 L347.12,281.40 L347.80,282.04 L348.48,282.69 L349.16,283.33 L349.84,283.98 L350.52,284.62 L351.20,285.26 L351.88,285.91 L352.56,286.55 L353.24,287.20 L353.92,287.84 L354.60,288.48 L355.28,289.13 L355.96,289.77 L356.64,290.42 L357.32,291.06 L358.00,291.70 L358.68,292.35 L359.36,292.99 L360.04,293.64 L360.72,294.28 L361.40,294.92 L362.08,295.57 L362.76,296.21 L363.44,296.86 L364.12,297.50 L364.80,298.14 L365.48,298.79 L366.16,299.43 L366.84,300.07 L367.52,300.72 L368.20,301.36 L368.88,302.01 L369.56,302.65 L370.24,303.29 L370.92,303.94 L371.60,304.58 L372.28,305.23 L372.96,305.87 L373.64,306.51 L374.32,307.16 L375.00,307.80 L375.68,308.44 L376.36,309.09 L377.04,309.73 L377.72,310.38 L378.40,311.02 L379.08,311.66 L379.76,312.31 L380.44,312.95 L381.12,313.59 L381.80,314.24 L382.48,314.88 L383.16,315.53 L383.84,316.17 L384.52,316.81 L385.20,317.46 L385.88,318.10 L386.56,318.74 L387.24,319.39 L387.92,320.03 L388.60,320.67 L389.28,321.32 L389.96,321.96 L390.64,322.61 L391.32,323.25 L392.00,323.89 L392.68,324.54 L393.36,325.18 L394.04,325.82 L394.72,326.47 L395.40,327.11 L396.08,327.76 L396.76,328.40 L397.44,329.04 L398.12,329.69 L398.80,330.33 L398.87,330.40" fill="none" stroke="#111111" stroke-width="1.30"/><line x1="262.80" y1="193.30" x2="287.82" y2="330.40" stroke="#5e1016" stroke-width="1.1"/><line x1="262.80" y1="193.30" x2="407.98" y2="330.40" stroke="#5e1016" stroke-width="1.1"/></g><line x1="315.30" y1="207.50" x2="333.80" y2="207.50" stroke="#bdbdbd" stroke-width="2.8"/><line x1="315.80" y1="217.70" x2="333.80" y2="217.70" stroke="#111111" stroke-width="1.5"/><g font-size="8.1"><text transform="translate(335.90,209.90) scale(0.955,1)"><tspan font-size="7.2">Δ</tspan>Stator/eGFP-FliL</text><text transform="translate(335.90,220.10) scale(0.955,1)"><tspan font-size="7.2">Δ</tspan>Stator/eGFP-FliL(Fitting)</text></g><g stroke="#1e1e1e" stroke-width="1.25"><line x1="296.80" y1="330.40" x2="296.80" y2="327.40"/><line x1="296.80" y1="193.30" x2="296.80" y2="196.30"/><line x1="330.80" y1="330.40" x2="330.80" y2="327.40"/><line x1="330.80" y1="193.30" x2="330.80" y2="196.30"/><line x1="364.80" y1="330.40" x2="364.80" y2="327.40"/><line x1="364.80" y1="193.30" x2="364.80" y2="196.30"/><line x1="398.80" y1="330.40" x2="398.80" y2="327.40"/><line x1="398.80" y1="193.30" x2="398.80" y2="196.30"/><line x1="262.80" y1="289.13" x2="265.80" y2="289.13"/><line x1="432.80" y1="289.13" x2="429.80" y2="289.13"/><line x1="262.80" y1="264.99" x2="265.80" y2="264.99"/><line x1="432.80" y1="264.99" x2="429.80" y2="264.99"/><line x1="262.80" y1="247.86" x2="265.80" y2="247.86"/><line x1="432.80" y1="247.86" x2="429.80" y2="247.86"/><line x1="262.80" y1="234.57" x2="265.80" y2="234.57"/><line x1="432.80" y1="234.57" x2="429.80" y2="234.57"/><line x1="262.80" y1="223.72" x2="265.80" y2="223.72"/><line x1="432.80" y1="223.72" x2="429.80" y2="223.72"/><line x1="262.80" y1="214.54" x2="265.80" y2="214.54"/><line x1="432.80" y1="214.54" x2="429.80" y2="214.54"/><line x1="262.80" y1="206.59" x2="265.80" y2="206.59"/><line x1="432.80" y1="206.59" x2="429.80" y2="206.59"/><line x1="262.80" y1="199.57" x2="265.80" y2="199.57"/><line x1="432.80" y1="199.57" x2="429.80" y2="199.57"/><rect x="262.80" y="193.30" width="170.00" height="137.10" fill="none"/></g><g font-size="10.30" letter-spacing="-0.12"><text x="259.72" y="197.51" text-anchor="end">1</text><text x="259.72" y="203.78" text-anchor="end">0.9</text><text x="259.72" y="210.79" text-anchor="end">0.8</text><text x="259.72" y="218.75" text-anchor="end">0.7</text><text x="259.72" y="227.92" text-anchor="end">0.6</text><text x="259.72" y="238.78" text-anchor="end">0.5</text><text x="259.72" y="252.07" text-anchor="end">0.4</text><text x="259.72" y="269.19" text-anchor="end">0.3</text><text x="259.72" y="293.34" text-anchor="end">0.2</text><text x="259.72" y="334.61" text-anchor="end">0.1</text><text x="262.80" y="345.90" text-anchor="middle">0.000</text><text x="296.80" y="345.90" text-anchor="middle">0.005</text><text x="330.80" y="345.90" text-anchor="middle">0.010</text><text x="364.80" y="345.90" text-anchor="middle">0.015</text><text x="398.80" y="345.90" text-anchor="middle">0.020</text><text x="432.80" y="345.90" text-anchor="middle">0.025</text></g><text x="260.30" y="185.90" font-size="14.2" style="stroke:none">(D)</text><text transform="translate(234.60,304.60) rotate(-90)" font-size="10.00">1-P<tspan font-size="5.80" dy="3.00">CPD</tspan><tspan dy="-3.00">(r</tspan><tspan font-size="5.80" dy="-4.20">2</tspan><tspan dy="4.20">,52ms)</tspan></text><text x="347.80" y="359.10" font-size="9.90" text-anchor="middle">r<tspan font-size="6.40" dy="-4.16">2</tspan><tspan dy="4.16"> (μm</tspan><tspan font-size="6.40" dy="-4.16">2</tspan><tspan dy="4.16">)</tspan></text><clipPath id="clipE"><rect x="502.00" y="24.90" width="242.30" height="195.90"/></clipPath><g clip-path="url(#clipE)"><path d="M502.00,25.90 L502.97,27.39 L503.94,28.85 L504.91,30.29 L505.88,31.70 L506.85,33.09 L507.82,34.46 L508.78,35.80 L509.75,37.13 L510.72,38.44 L511.69,39.72 L512.66,40.99 L513.63,42.25 L514.60,43.48 L515.57,44.70 L516.54,45.91 L517.51,47.10 L518.48,48.28 L519.45,49.45 L520.41,50.60 L521.38,51.74 L522.35,52.87 L523.32,53.99 L524.29,55.10 L525.26,56.20 L526.23,57.29 L527.20,58.37 L528.17,59.45 L529.14,60.51 L530.11,61.57 L531.08,62.62 L532.05,63.66 L533.01,64.70 L533.98,65.73 L534.95,66.76 L535.92,67.78 L536.89,68.79 L537.86,69.80 L538.83,70.81 L539.80,71.81 L540.77,72.80 L541.74,73.79 L542.71,74.78 L543.68,75.77 L544.64,76.75 L545.61,77.72 L546.58,78.70 L547.55,79.67 L548.52,80.64 L549.49,81.60 L550.46,82.57 L551.43,83.53 L552.40,84.48 L553.37,85.44 L554.34,86.39 L555.32,87.34 L556.30,88.29 L557.28,89.24 L558.27,90.19 L559.27,91.13 L560.26,92.08 L561.23,93.02 L562.21,93.96 L563.19,94.90 L564.20,95.84 L565.21,96.77 L566.20,97.71 L567.19,98.64 L568.18,99.58 L569.20,100.51 L570.20,101.44 L571.14,102.37 L572.04,103.30 L572.93,104.23 L573.87,105.16 L574.89,106.09 L575.93,107.01 L576.95,107.94 L577.98,108.87 L579.06,109.79 L580.20,110.72 L581.33,111.64 L582.36,112.56 L583.29,113.49 L584.20,114.41 L585.23,115.33 L586.35,116.25 L587.48,117.18 L588.53,118.10 L589.52,119.02 L590.55,119.94 L591.63,120.86 L592.66,121.78 L593.48,122.70 L594.12,123.62 L594.76,124.54 L595.60,125.46 L596.67,126.38 L597.79,127.30 L598.86,128.21 L599.92,129.13 L601.12,130.05 L602.49,130.97 L603.81,131.89 L604.87,132.81 L605.68,133.72 L606.49,134.64 L607.57,135.56 L608.90,136.48 L610.23,137.39 L611.37,138.31 L612.39,139.23 L613.49,140.14 L614.70,141.06 L615.76,141.98 L616.40,142.89 L616.66,143.81 L616.94,144.73 L617.61,145.64 L618.69,146.56 L619.87,147.48 L620.93,148.39 L621.96,149.31 L623.26,150.22 L624.84,151.14 L626.35,152.06 L627.41,152.97 L628.05,153.89 L628.74,154.80 L629.90,155.72 L631.49,156.63 L633.09,157.55 L634.38,158.47 L635.47,159.38 L636.69,160.30 L638.08,161.21 L639.21,162.13 L639.67,163.04 L639.53,163.96 L639.41,164.87 L639.88,165.79 L640.94,166.71 L642.13,167.62 L643.11,168.54 L644.05,169.45 L645.37,170.37 L647.09,171.28 L648.72,172.20 L649.72,173.11 L650.16,174.03 L650.71,174.94 L651.94,175.86 L653.80,176.77 L655.68,177.69 L657.15,178.61 L658.37,179.52 L659.77,180.44 L661.37,181.35 L662.62,182.27 L662.95,183.18 L662.49,184.10 L662.04,185.01 L662.33,185.93 L663.35,186.84 L664.50,187.76 L665.35,188.67 L666.15,189.59 L667.40,190.50 L669.15,191.42 L670.79,192.33 L671.67,193.25 L671.88,194.16 L672.26,195.08 L673.53,195.99 L675.59,196.91 L677.71,197.82 L679.35,198.74 L680.71,199.65 L682.29,200.57 L684.12,201.48 L685.52,202.40 L685.82,203.31 L685.18,204.23 L684.54,205.14 L684.72,206.06 L685.71,206.98 L686.81,207.89 L687.53,208.81 L688.16,209.72 L689.28,210.64 L690.95,211.55 L692.49,212.47 L693.19,213.38 L693.18,214.30 L693.40,215.21 L694.63,216.13 L696.76,217.04 L698.98,217.96 L700.72,218.87 L702.18,219.79 L703.90,220.70 L704.11,220.80" fill="none" stroke="#bdbdbd" stroke-width="3.8" stroke-linejoin="round"/><path d="M502.00,25.90 L502.97,27.92 L503.94,29.88 L504.91,31.79 L505.88,33.63 L506.85,35.42 L507.82,37.16 L508.78,38.85 L509.75,40.50 L510.72,42.10 L511.69,43.66 L512.66,45.18 L513.63,46.66 L514.60,48.10 L515.57,49.52 L516.55,50.90 L517.52,52.25 L518.49,53.57 L519.46,54.86 L520.43,56.13 L521.41,57.38 L522.38,58.60 L523.36,59.80 L524.33,60.98 L525.31,62.15 L526.28,63.29 L527.26,64.42 L528.23,65.54 L529.20,66.64 L530.17,67.72 L531.14,68.79 L532.12,69.86 L533.11,70.91 L534.09,71.95 L535.08,72.98 L536.07,74.00 L537.06,75.01 L538.06,76.01 L539.04,77.01 L540.01,78.00 L540.98,78.98 L541.96,79.96 L542.95,80.93 L543.94,81.89 L544.92,82.85 L545.89,83.81 L546.88,84.76 L547.87,85.71 L548.85,86.65 L549.81,87.59 L550.75,88.52 L551.69,89.46 L552.66,90.39 L553.66,91.31 L554.67,92.24 L555.67,93.16 L556.67,94.08 L557.69,95.00 L558.73,95.91 L559.76,96.83 L560.75,97.74 L561.71,98.65 L562.66,99.56 L563.64,100.47 L564.66,101.37 L565.68,102.28 L566.67,103.18 L567.64,104.09 L568.63,104.99 L569.63,105.89 L570.62,106.79 L571.55,107.69 L572.44,108.59 L573.33,109.49 L574.28,110.38 L575.30,111.28 L576.33,112.18 L577.34,113.07 L578.35,113.97 L579.40,114.86 L580.49,115.76 L581.56,116.65 L582.56,117.54 L583.49,118.44 L584.43,119.33 L585.42,120.22 L586.48,121.12 L587.53,122.01 L588.54,122.90 L589.51,123.79 L590.51,124.68 L591.53,125.57 L592.53,126.46 L593.42,127.35 L594.24,128.24 L595.06,129.13 L595.98,130.03 L597.00,130.92 L598.04,131.81 L599.06,132.69 L600.07,133.58 L601.14,134.47 L602.27,135.36 L603.38,136.25 L604.39,137.14 L605.30,138.03 L606.21,138.92 L607.22,139.81 L608.33,140.70 L609.43,141.59 L610.46,142.48 L611.44,143.37 L612.46,144.25 L613.51,145.14 L614.51,146.03 L615.37,146.92 L616.10,147.81 L616.85,148.70 L617.73,149.59 L618.75,150.48 L619.79,151.36 L620.80,152.25 L621.79,153.14 L622.87,154.03 L624.03,154.92 L625.17,155.81 L626.17,156.70 L627.05,157.58 L627.94,158.47 L628.97,159.36 L630.12,160.25 L631.28,161.14 L632.34,162.03 L633.35,162.91 L634.39,163.80 L635.48,164.69 L636.49,165.58 L637.32,166.47 L637.99,167.36 L638.67,168.24 L639.51,169.13 L640.51,170.02 L641.54,170.91 L642.52,171.80 L643.49,172.69 L644.56,173.57 L645.73,174.46 L646.88,175.35 L647.86,176.24 L648.70,177.13 L649.56,178.01 L650.61,178.90 L651.81,179.79 L653.01,180.68 L654.11,181.57 L655.14,182.46 L656.22,183.34 L657.35,184.23 L658.39,185.12 L659.21,186.01 L659.82,186.90 L660.45,187.79 L661.25,188.67 L662.24,189.56 L663.26,190.45 L664.20,191.34 L665.14,192.23 L666.18,193.11 L667.34,194.00 L668.47,194.89 L669.42,195.78 L670.22,196.67 L671.05,197.56 L672.09,198.44 L673.32,199.33 L674.56,200.22 L675.69,201.11 L676.76,202.00 L677.87,202.88 L679.04,203.77 L680.11,204.66 L680.92,205.55 L681.52,206.44 L682.12,207.33 L682.91,208.21 L683.88,209.10 L684.88,209.99 L685.80,210.88 L686.69,211.77 L687.69,212.65 L688.83,213.54 L689.92,214.43 L690.83,215.32 L691.58,216.21 L692.38,217.10 L693.41,217.98 L694.64,218.87 L695.89,219.76 L697.04,220.65 L697.22,220.80" fill="none" stroke="#f9c9ae" stroke-width="3.6" stroke-linejoin="round"/><path d="M502.00,25.90 L502.73,28.46 L503.49,30.95 L504.29,33.37 L505.12,35.73 L505.98,38.03 L506.86,40.27 L507.76,42.46 L508.67,44.58 L509.60,46.65 L510.55,48.67 L511.50,50.64 L512.47,52.55 L513.44,54.42 L514.42,56.25 L515.41,58.02 L516.40,59.76 L517.39,61.46 L518.39,63.11 L519.39,64.73 L520.39,66.31 L521.39,67.86 L522.40,69.38 L523.40,70.86 L524.41,72.31 L525.41,73.74 L526.41,75.14 L527.42,76.51 L528.42,77.86 L529.43,79.18 L530.43,80.48 L531.43,81.76 L532.43,83.02 L533.43,84.26 L534.43,85.49 L535.42,86.69 L536.42,87.88 L537.41,89.06 L538.41,90.21 L539.40,91.36 L540.39,92.49 L541.38,93.61 L542.37,94.72 L543.36,95.81 L544.35,96.90 L545.34,97.98 L546.32,99.04 L547.31,100.10 L548.29,101.15 L549.27,102.19 L550.26,103.22 L551.24,104.25 L552.22,105.27 L553.20,106.28 L554.18,107.29 L555.16,108.29 L556.14,109.29 L557.11,110.28 L558.09,111.27 L559.07,112.25 L560.05,113.23 L561.02,114.20 L562.00,115.17 L562.97,116.14 L563.95,117.10 L564.92,118.06 L565.90,119.02 L566.87,119.98 L567.84,120.93 L568.82,121.88 L569.79,122.83 L570.76,123.77 L571.74,124.71 L572.71,125.65 L573.68,126.59 L574.65,127.53 L575.62,128.47 L576.60,129.40 L577.57,130.33 L578.54,131.26 L579.51,132.19 L580.48,133.12 L581.45,134.05 L582.42,134.98 L583.39,135.90 L584.36,136.83 L585.33,137.75 L586.30,138.67 L587.27,139.60 L588.24,140.52 L589.21,141.44 L590.19,142.36 L591.16,143.28 L592.13,144.20 L593.09,145.11 L594.06,146.03 L595.03,146.95 L596.00,147.87 L596.97,148.78 L597.94,149.70 L598.91,150.61 L599.88,151.53 L600.85,152.44 L601.82,153.36 L602.79,154.27 L603.76,155.19 L604.73,156.10 L605.70,157.01 L606.67,157.93 L607.64,158.84 L608.61,159.75 L609.58,160.66 L610.55,161.58 L611.52,162.49 L612.49,163.40 L613.46,164.31 L614.43,165.22 L615.39,166.13 L616.36,167.05 L617.33,167.96 L618.30,168.87 L619.27,169.78 L620.25,170.69 L621.23,171.60 L622.21,172.51 L623.20,173.42 L624.19,174.33 L625.19,175.24 L626.19,176.15 L627.19,177.06 L628.19,177.97 L629.20,178.88 L630.21,179.79 L631.22,180.70 L632.24,181.61 L633.26,182.52 L634.28,183.43 L635.30,184.34 L636.32,185.25 L637.34,186.16 L638.37,187.07 L639.40,187.98 L640.43,188.89 L641.46,189.80 L642.49,190.71 L643.52,191.62 L644.55,192.53 L645.59,193.44 L646.62,194.35 L647.65,195.26 L648.68,196.17 L649.72,197.08 L650.75,197.99 L651.78,198.90 L652.81,199.81 L653.84,200.72 L654.87,201.63 L655.90,202.53 L656.93,203.44 L657.95,204.35 L658.97,205.26 L660.00,206.17 L661.02,207.08 L662.03,207.99 L663.05,208.90 L664.06,209.81 L665.07,210.72 L666.08,211.63 L667.08,212.54 L668.09,213.45 L669.08,214.36 L670.08,215.27 L671.07,216.17 L672.06,217.08 L673.04,217.99 L674.02,218.90 L675.00,219.81 L675.97,220.72 L676.06,220.80" fill="none" stroke="#7ff3ee" stroke-width="3.2" stroke-linejoin="round"/><path d="M502.00,25.90 L502.57,28.07 L503.20,30.20 L503.88,32.29 L504.62,34.34 L505.40,36.35 L506.22,38.32 L507.07,40.25 L507.95,42.15 L508.86,44.01 L509.78,45.83 L510.73,47.62 L511.69,49.37 L512.67,51.09 L513.65,52.78 L514.65,54.44 L515.66,56.07 L516.67,57.67 L517.68,59.24 L518.70,60.79 L519.73,62.31 L520.75,63.80 L521.78,65.27 L522.81,66.71 L523.83,68.13 L524.86,69.53 L525.89,70.91 L526.92,72.27 L527.95,73.61 L528.97,74.93 L529.99,76.23 L531.02,77.51 L532.04,78.77 L533.06,80.02 L534.07,81.26 L535.09,82.47 L536.10,83.68 L537.12,84.87 L538.13,86.04 L539.13,87.21 L540.14,88.36 L541.15,89.50 L542.15,90.62 L543.15,91.74 L544.15,92.85 L545.15,93.94 L546.15,95.03 L547.14,96.11 L548.14,97.18 L549.13,98.24 L550.12,99.29 L551.11,100.34 L552.10,101.38 L553.09,102.41 L554.07,103.43 L555.06,104.45 L556.04,105.46 L557.03,106.47 L558.01,107.47 L558.99,108.46 L559.97,109.45 L560.96,110.44 L561.94,111.42 L562.91,112.40 L563.89,113.37 L564.87,114.34 L565.85,115.30 L566.83,116.26 L567.80,117.22 L568.78,118.17 L569.75,119.12 L570.73,120.07 L571.70,121.01 L572.68,121.95 L573.65,122.89 L574.63,123.83 L575.60,124.76 L576.57,125.69 L577.55,126.62 L578.52,127.55 L579.49,128.47 L580.46,129.40 L581.44,130.32 L582.42,131.24 L583.40,132.16 L584.38,133.07 L585.36,133.99 L586.35,134.90 L587.34,135.82 L588.33,136.73 L589.32,137.64 L590.32,138.54 L591.31,139.45 L592.30,140.36 L593.27,141.26 L594.24,142.17 L595.22,143.07 L596.22,143.97 L597.23,144.88 L598.23,145.78 L599.24,146.68 L600.26,147.58 L601.30,148.47 L602.35,149.37 L603.36,150.27 L604.35,151.17 L605.33,152.06 L606.35,152.96 L607.41,153.85 L608.47,154.75 L609.51,155.64 L610.53,156.54 L611.56,157.43 L612.61,158.32 L613.64,159.21 L614.60,160.11 L615.48,161.00 L616.36,161.89 L617.30,162.78 L618.33,163.67 L619.38,164.56 L620.41,165.45 L621.43,166.34 L622.50,167.23 L623.65,168.12 L624.77,169.01 L625.81,169.90 L626.75,170.79 L627.70,171.68 L628.75,172.56 L629.91,173.45 L631.07,174.34 L632.16,175.23 L633.21,176.11 L634.28,177.00 L635.40,177.89 L636.46,178.78 L637.34,179.66 L638.07,180.55 L638.80,181.44 L639.68,182.32 L640.71,183.21 L641.77,184.10 L642.78,184.98 L643.78,185.87 L644.88,186.76 L646.09,187.64 L647.27,188.53 L648.29,189.41 L649.15,190.30 L650.03,191.19 L651.11,192.07 L652.36,192.96 L653.62,193.84 L654.76,194.73 L655.83,195.62 L656.96,196.50 L658.14,197.39 L659.22,198.27 L660.04,199.16 L660.62,200.04 L661.21,200.93 L662.00,201.81 L663.01,202.70 L664.05,203.58 L665.01,204.47 L665.95,205.35 L667.02,206.24 L668.23,207.12 L669.41,208.01 L670.37,208.89 L671.14,209.78 L671.95,210.66 L673.02,211.55 L674.31,212.43 L675.62,213.32 L676.79,214.20 L677.88,215.09 L679.02,215.97 L680.24,216.86 L681.33,217.74 L682.11,218.63 L682.61,219.51 L683.12,220.40 L683.42,220.80" fill="none" stroke="#86ee86" stroke-width="4.0" stroke-linejoin="round"/><path d="M502.00,25.90 L502.97,28.46 L503.94,30.95 L504.91,33.37 L505.88,35.73 L506.85,38.03 L507.82,40.27 L508.78,42.46 L509.75,44.58 L510.72,46.65 L511.69,48.67 L512.66,50.64 L513.63,52.55 L514.60,54.42 L515.57,56.25 L516.54,58.02 L517.51,59.76 L518.48,61.46 L519.45,63.11 L520.41,64.73 L521.38,66.31 L522.35,67.86 L523.32,69.38 L524.29,70.86 L525.26,72.31 L526.23,73.74 L527.20,75.14 L528.17,76.51 L529.14,77.86 L530.11,79.18 L531.08,80.48 L532.05,81.76 L533.01,83.02 L533.98,84.26 L534.95,85.49 L535.92,86.69 L536.89,87.88 L537.86,89.06 L538.83,90.21 L539.80,91.36 L540.77,92.49 L541.74,93.61 L542.71,94.72 L543.68,95.81 L544.64,96.90 L545.61,97.98 L546.58,99.04 L547.55,100.10 L548.52,101.15 L549.49,102.19 L550.46,103.22 L551.43,104.25 L552.40,105.27 L553.37,106.28 L554.34,107.29 L555.31,108.29 L556.28,109.29 L557.24,110.28 L558.21,111.27 L559.18,112.25 L560.15,113.23 L561.12,114.20 L562.09,115.17 L563.06,116.14 L564.03,117.10 L565.00,118.06 L565.97,119.02 L566.94,119.98 L567.91,120.93 L568.87,121.88 L569.84,122.83 L570.81,123.77 L571.78,124.71 L572.75,125.65 L573.72,126.59 L574.69,127.53 L575.66,128.47 L576.63,129.40 L577.60,130.33 L578.57,131.26 L579.54,132.19 L580.51,133.12 L581.47,134.05 L582.44,134.98 L583.41,135.90 L584.38,136.83 L585.35,137.75 L586.32,138.67 L587.29,139.60 L588.26,140.52 L589.23,141.44 L590.20,142.36 L591.17,143.28 L592.14,144.20 L593.10,145.11 L594.07,146.03 L595.04,146.95 L596.01,147.87 L596.98,148.78 L597.95,149.70 L598.92,150.61 L599.89,151.53 L600.86,152.44 L601.83,153.36 L602.80,154.27 L603.77,155.19 L604.74,156.10 L605.70,157.01 L606.67,157.93 L607.64,158.84 L608.61,159.75 L609.58,160.66 L610.55,161.58 L611.52,162.49 L612.49,163.40 L613.46,164.31 L614.43,165.22 L615.40,166.13 L616.37,167.05 L617.33,167.96 L618.30,168.87 L619.27,169.78 L620.24,170.69 L621.21,171.60 L622.18,172.51 L623.15,173.42 L624.12,174.33 L625.09,175.24 L626.06,176.15 L627.03,177.06 L628.00,177.97 L628.97,178.88 L629.93,179.79 L630.90,180.70 L631.87,181.61 L632.84,182.52 L633.81,183.43 L634.78,184.34 L635.75,185.25 L636.72,186.16 L637.69,187.07 L638.66,187.98 L639.63,188.89 L640.60,189.80 L641.56,190.71 L642.53,191.62 L643.50,192.53 L644.47,193.44 L645.44,194.35 L646.41,195.26 L647.38,196.17 L648.35,197.08 L649.32,197.99 L650.29,198.90 L651.26,199.81 L652.23,200.72 L653.20,201.63 L654.16,202.53 L655.13,203.44 L656.10,204.35 L657.07,205.26 L658.04,206.17 L659.01,207.08 L659.98,207.99 L660.95,208.90 L661.92,209.81 L662.89,210.72 L663.86,211.63 L664.83,212.54 L665.79,213.45 L666.76,214.36 L667.73,215.27 L668.70,216.17 L669.67,217.08 L670.64,217.99 L671.61,218.90 L672.58,219.81 L673.55,220.72 L673.63,220.80" fill="none" stroke="#0c2cd0" stroke-width="1.3"/><path d="M502.00,25.90 L502.97,28.07 L503.94,30.20 L504.91,32.29 L505.88,34.34 L506.85,36.35 L507.82,38.32 L508.78,40.25 L509.75,42.15 L510.72,44.01 L511.69,45.83 L512.66,47.62 L513.63,49.37 L514.60,51.09 L515.57,52.78 L516.54,54.44 L517.51,56.07 L518.48,57.67 L519.45,59.24 L520.41,60.79 L521.38,62.31 L522.35,63.80 L523.32,65.27 L524.29,66.71 L525.26,68.13 L526.23,69.53 L527.20,70.91 L528.17,72.27 L529.14,73.61 L530.11,74.93 L531.08,76.23 L532.05,77.51 L533.01,78.77 L533.98,80.02 L534.95,81.26 L535.92,82.47 L536.89,83.68 L537.86,84.87 L538.83,86.04 L539.80,87.21 L540.77,88.36 L541.74,89.50 L542.71,90.62 L543.68,91.74 L544.64,92.85 L545.61,93.94 L546.58,95.03 L547.55,96.11 L548.52,97.18 L549.49,98.24 L550.46,99.29 L551.43,100.34 L552.40,101.38 L553.37,102.41 L554.34,103.43 L555.31,104.45 L556.28,105.46 L557.24,106.47 L558.21,107.47 L559.18,108.46 L560.15,109.45 L561.12,110.44 L562.09,111.42 L563.06,112.40 L564.03,113.37 L565.00,114.34 L565.97,115.30 L566.94,116.26 L567.91,117.22 L568.87,118.17 L569.84,119.12 L570.81,120.07 L571.78,121.01 L572.75,121.95 L573.72,122.89 L574.69,123.83 L575.66,124.76 L576.63,125.69 L577.60,126.62 L578.57,127.55 L579.54,128.47 L580.51,129.40 L581.47,130.32 L582.44,131.24 L583.41,132.16 L584.38,133.07 L585.35,133.99 L586.32,134.90 L587.29,135.82 L588.26,136.73 L589.23,137.64 L590.20,138.54 L591.17,139.45 L592.14,140.36 L593.10,141.26 L594.07,142.17 L595.04,143.07 L596.01,143.97 L596.98,144.88 L597.95,145.78 L598.92,146.68 L599.89,147.58 L600.86,148.47 L601.83,149.37 L602.80,150.27 L603.77,151.17 L604.74,152.06 L605.70,152.96 L606.67,153.85 L607.64,154.75 L608.61,155.64 L609.58,156.54 L610.55,157.43 L611.52,158.32 L612.49,159.21 L613.46,160.11 L614.43,161.00 L615.40,161.89 L616.37,162.78 L617.33,163.67 L618.30,164.56 L619.27,165.45 L620.24,166.34 L621.21,167.23 L622.18,168.12 L623.15,169.01 L624.12,169.90 L625.09,170.79 L626.06,171.68 L627.03,172.56 L628.00,173.45 L628.97,174.34 L629.93,175.23 L630.90,176.11 L631.87,177.00 L632.84,177.89 L633.81,178.78 L634.78,179.66 L635.75,180.55 L636.72,181.44 L637.69,182.32 L638.66,183.21 L639.63,184.10 L640.60,184.98 L641.56,185.87 L642.53,186.76 L643.50,187.64 L644.47,188.53 L645.44,189.41 L646.41,190.30 L647.38,191.19 L648.35,192.07 L649.32,192.96 L650.29,193.84 L651.26,194.73 L652.23,195.62 L653.20,196.50 L654.16,197.39 L655.13,198.27 L656.10,199.16 L657.07,200.04 L658.04,200.93 L659.01,201.81 L659.98,202.70 L660.95,203.58 L661.92,204.47 L662.89,205.35 L663.86,206.24 L664.83,207.12 L665.79,208.01 L666.76,208.89 L667.73,209.78 L668.70,210.66 L669.67,211.55 L670.64,212.43 L671.61,213.32 L672.58,214.20 L673.55,215.09 L674.52,215.97 L675.49,216.86 L676.46,217.74 L677.43,218.63 L678.39,219.51 L679.36,220.40 L679.81,220.80" fill="none" stroke="#0c7810" stroke-width="1.3"/><path d="M502.00,25.90 L502.97,27.92 L503.94,29.88 L504.91,31.79 L505.88,33.63 L506.85,35.42 L507.82,37.16 L508.78,38.85 L509.75,40.50 L510.72,42.10 L511.69,43.66 L512.66,45.18 L513.63,46.66 L514.60,48.10 L515.57,49.52 L516.54,50.90 L517.51,52.25 L518.48,53.57 L519.45,54.86 L520.41,56.13 L521.38,57.38 L522.35,58.60 L523.32,59.80 L524.29,60.98 L525.26,62.15 L526.23,63.29 L527.20,64.42 L528.17,65.54 L529.14,66.64 L530.11,67.72 L531.08,68.79 L532.05,69.86 L533.01,70.91 L533.98,71.95 L534.95,72.98 L535.92,74.00 L536.89,75.01 L537.86,76.01 L538.83,77.01 L539.80,78.00 L540.77,78.98 L541.74,79.96 L542.71,80.93 L543.68,81.89 L544.64,82.85 L545.61,83.81 L546.58,84.76 L547.55,85.71 L548.52,86.65 L549.49,87.59 L550.46,88.52 L551.43,89.46 L552.40,90.39 L553.37,91.31 L554.34,92.24 L555.31,93.16 L556.28,94.08 L557.24,95.00 L558.21,95.91 L559.18,96.83 L560.15,97.74 L561.12,98.65 L562.09,99.56 L563.06,100.47 L564.03,101.37 L565.00,102.28 L565.97,103.18 L566.94,104.09 L567.91,104.99 L568.87,105.89 L569.84,106.79 L570.81,107.69 L571.78,108.59 L572.75,109.49 L573.72,110.38 L574.69,111.28 L575.66,112.18 L576.63,113.07 L577.60,113.97 L578.57,114.86 L579.54,115.76 L580.51,116.65 L581.47,117.54 L582.44,118.44 L583.41,119.33 L584.38,120.22 L585.35,121.12 L586.32,122.01 L587.29,122.90 L588.26,123.79 L589.23,124.68 L590.20,125.57 L591.17,126.46 L592.14,127.35 L593.10,128.24 L594.07,129.13 L595.04,130.03 L596.01,130.92 L596.98,131.81 L597.95,132.69 L598.92,133.58 L599.89,134.47 L600.86,135.36 L601.83,136.25 L602.80,137.14 L603.77,138.03 L604.74,138.92 L605.70,139.81 L606.67,140.70 L607.64,141.59 L608.61,142.48 L609.58,143.37 L610.55,144.25 L611.52,145.14 L612.49,146.03 L613.46,146.92 L614.43,147.81 L615.40,148.70 L616.37,149.59 L617.33,150.48 L618.30,151.36 L619.27,152.25 L620.24,153.14 L621.21,154.03 L622.18,154.92 L623.15,155.81 L624.12,156.70 L625.09,157.58 L626.06,158.47 L627.03,159.36 L628.00,160.25 L628.97,161.14 L629.93,162.03 L630.90,162.91 L631.87,163.80 L632.84,164.69 L633.81,165.58 L634.78,166.47 L635.75,167.36 L636.72,168.24 L637.69,169.13 L638.66,170.02 L639.63,170.91 L640.60,171.80 L641.56,172.69 L642.53,173.57 L643.50,174.46 L644.47,175.35 L645.44,176.24 L646.41,177.13 L647.38,178.01 L648.35,178.90 L649.32,179.79 L650.29,180.68 L651.26,181.57 L652.23,182.46 L653.20,183.34 L654.16,184.23 L655.13,185.12 L656.10,186.01 L657.07,186.90 L658.04,187.79 L659.01,188.67 L659.98,189.56 L660.95,190.45 L661.92,191.34 L662.89,192.23 L663.86,193.11 L664.83,194.00 L665.79,194.89 L666.76,195.78 L667.73,196.67 L668.70,197.56 L669.67,198.44 L670.64,199.33 L671.61,200.22 L672.58,201.11 L673.55,202.00 L674.52,202.88 L675.49,203.77 L676.46,204.66 L677.43,205.55 L678.39,206.44 L679.36,207.33 L680.33,208.21 L681.30,209.10 L682.27,209.99 L683.24,210.88 L684.21,211.77 L685.18,212.65 L686.15,213.54 L687.12,214.43 L688.09,215.32 L689.06,216.21 L690.02,217.10 L690.99,217.98 L691.96,218.87 L692.93,219.76 L693.90,220.65 L694.07,220.80" fill="none" stroke="#ee8a2c" stroke-width="1.3"/><path d="M502.00,25.90 L502.97,27.39 L503.94,28.85 L504.91,30.29 L505.88,31.70 L506.85,33.09 L507.82,34.46 L508.78,35.80 L509.75,37.13 L510.72,38.44 L511.69,39.72 L512.66,40.99 L513.63,42.25 L514.60,43.48 L515.57,44.70 L516.54,45.91 L517.51,47.10 L518.48,48.28 L519.45,49.45 L520.41,50.60 L521.38,51.74 L522.35,52.87 L523.32,53.99 L524.29,55.10 L525.26,56.20 L526.23,57.29 L527.20,58.37 L528.17,59.45 L529.14,60.51 L530.11,61.57 L531.08,62.62 L532.05,63.66 L533.01,64.70 L533.98,65.73 L534.95,66.76 L535.92,67.78 L536.89,68.79 L537.86,69.80 L538.83,70.81 L539.80,71.81 L540.77,72.80 L541.74,73.79 L542.71,74.78 L543.68,75.77 L544.64,76.75 L545.61,77.72 L546.58,78.70 L547.55,79.67 L548.52,80.64 L549.49,81.60 L550.46,82.57 L551.43,83.53 L552.40,84.48 L553.37,85.44 L554.34,86.39 L555.31,87.34 L556.28,88.29 L557.24,89.24 L558.21,90.19 L559.18,91.13 L560.15,92.08 L561.12,93.02 L562.09,93.96 L563.06,94.90 L564.03,95.84 L565.00,96.77 L565.97,97.71 L566.94,98.64 L567.91,99.58 L568.87,100.51 L569.84,101.44 L570.81,102.37 L571.78,103.30 L572.75,104.23 L573.72,105.16 L574.69,106.09 L575.66,107.01 L576.63,107.94 L577.60,108.87 L578.57,109.79 L579.54,110.72 L580.51,111.64 L581.47,112.56 L582.44,113.49 L583.41,114.41 L584.38,115.33 L585.35,116.25 L586.32,117.18 L587.29,118.10 L588.26,119.02 L589.23,119.94 L590.20,120.86 L591.17,121.78 L592.14,122.70 L593.10,123.62 L594.07,124.54 L595.04,125.46 L596.01,126.38 L596.98,127.30 L597.95,128.21 L598.92,129.13 L599.89,130.05 L600.86,130.97 L601.83,131.89 L602.80,132.81 L603.77,133.72 L604.74,134.64 L605.70,135.56 L606.67,136.48 L607.64,137.39 L608.61,138.31 L609.58,139.23 L610.55,140.14 L611.52,141.06 L612.49,141.98 L613.46,142.89 L614.43,143.81 L615.40,144.73 L616.37,145.64 L617.33,146.56 L618.30,147.48 L619.27,148.39 L620.24,149.31 L621.21,150.22 L622.18,151.14 L623.15,152.06 L624.12,152.97 L625.09,153.89 L626.06,154.80 L627.03,155.72 L628.00,156.63 L628.97,157.55 L629.93,158.47 L630.90,159.38 L631.87,160.30 L632.84,161.21 L633.81,162.13 L634.78,163.04 L635.75,163.96 L636.72,164.87 L637.69,165.79 L638.66,166.71 L639.63,167.62 L640.60,168.54 L641.56,169.45 L642.53,170.37 L643.50,171.28 L644.47,172.20 L645.44,173.11 L646.41,174.03 L647.38,174.94 L648.35,175.86 L649.32,176.77 L650.29,177.69 L651.26,178.61 L652.23,179.52 L653.20,180.44 L654.16,181.35 L655.13,182.27 L656.10,183.18 L657.07,184.10 L658.04,185.01 L659.01,185.93 L659.98,186.84 L660.95,187.76 L661.92,188.67 L662.89,189.59 L663.86,190.50 L664.83,191.42 L665.79,192.33 L666.76,193.25 L667.73,194.16 L668.70,195.08 L669.67,195.99 L670.64,196.91 L671.61,197.82 L672.58,198.74 L673.55,199.65 L674.52,200.57 L675.49,201.48 L676.46,202.40 L677.43,203.31 L678.39,204.23 L679.36,205.14 L680.33,206.06 L681.30,206.98 L682.27,207.89 L683.24,208.81 L684.21,209.72 L685.18,210.64 L686.15,211.55 L687.12,212.47 L688.09,213.38 L689.06,214.30 L690.02,215.21 L690.99,216.13 L691.96,217.04 L692.93,217.96 L693.90,218.87 L694.87,219.79 L695.84,220.70 L695.94,220.80" fill="none" stroke="#111111" stroke-width="1.3"/></g><g stroke="#1e1e1e" stroke-width="1.60"><line x1="550.46" y1="220.80" x2="550.46" y2="216.80"/><line x1="550.46" y1="25.90" x2="550.46" y2="29.90"/><line x1="598.92" y1="220.80" x2="598.92" y2="216.80"/><line x1="598.92" y1="25.90" x2="598.92" y2="29.90"/><line x1="647.38" y1="220.80" x2="647.38" y2="216.80"/><line x1="647.38" y1="25.90" x2="647.38" y2="29.90"/><line x1="695.84" y1="220.80" x2="695.84" y2="216.80"/><line x1="695.84" y1="25.90" x2="695.84" y2="29.90"/><line x1="502.00" y1="162.13" x2="506.00" y2="162.13"/><line x1="744.30" y1="162.13" x2="740.30" y2="162.13"/><line x1="502.00" y1="127.81" x2="506.00" y2="127.81"/><line x1="744.30" y1="127.81" x2="740.30" y2="127.81"/><line x1="502.00" y1="103.46" x2="506.00" y2="103.46"/><line x1="744.30" y1="103.46" x2="740.30" y2="103.46"/><line x1="502.00" y1="84.57" x2="506.00" y2="84.57"/><line x1="744.30" y1="84.57" x2="740.30" y2="84.57"/><line x1="502.00" y1="69.14" x2="506.00" y2="69.14"/><line x1="744.30" y1="69.14" x2="740.30" y2="69.14"/><line x1="502.00" y1="56.09" x2="506.00" y2="56.09"/><line x1="744.30" y1="56.09" x2="740.30" y2="56.09"/><line x1="502.00" y1="44.79" x2="506.00" y2="44.79"/><line x1="744.30" y1="44.79" x2="740.30" y2="44.79"/><line x1="502.00" y1="34.82" x2="506.00" y2="34.82"/><line x1="744.30" y1="34.82" x2="740.30" y2="34.82"/><rect x="502.00" y="25.90" width="242.30" height="194.90" fill="none"/></g><g font-size="11.40" letter-spacing="-0.15"><text x="496.95" y="29.20" text-anchor="end">1</text><text x="496.95" y="38.12" text-anchor="end">0.9</text><text x="496.95" y="48.09" text-anchor="end">0.8</text><text x="496.95" y="59.39" text-anchor="end">0.7</text><text x="496.95" y="72.44" text-anchor="end">0.6</text><text x="496.95" y="87.87" text-anchor="end">0.5</text><text x="496.95" y="106.76" text-anchor="end">0.4</text><text x="496.95" y="131.11" text-anchor="end">0.3</text><text x="496.95" y="165.43" text-anchor="end">0.2</text><text x="496.95" y="224.10" text-anchor="end">0.1</text><text x="502.00" y="234.00" text-anchor="middle">0.000</text><text x="550.46" y="234.00" text-anchor="middle">0.005</text><text x="598.92" y="234.00" text-anchor="middle">0.010</text><text x="647.38" y="234.00" text-anchor="middle">0.015</text><text x="695.84" y="234.00" text-anchor="middle">0.020</text><text x="744.30" y="234.00" text-anchor="middle">0.025</text></g><text x="489.90" y="12.40" font-size="14.2" style="stroke:none">(E)</text><text transform="translate(466.60,171.00) rotate(-90)" font-size="12.30">1-P<tspan font-size="7.60" dy="3.69">CPD</tspan><tspan dy="-3.69">(r</tspan><tspan font-size="7.60" dy="-5.17">2</tspan><tspan dy="5.17">,52ms)</tspan></text><text x="623.55" y="255.50" font-size="11.70" text-anchor="middle">r<tspan font-size="7.30" dy="-4.91">2</tspan><tspan dy="4.91"> (μm</tspan><tspan font-size="7.30" dy="-4.91">2</tspan><tspan dy="4.91">)</tspan></text><g fill="#1a1a1a"><rect x="465.80" y="290.70" width="290.80" height="10.50" fill="#d0d0d0"/><rect x="465.80" y="314.10" width="290.80" height="10.50" fill="#d0d0d0"/><line x1="465.80" y1="278.1" x2="756.60" y2="278.1" stroke="#7a7a7a" stroke-width="1.5"/><line x1="465.80" y1="290.3" x2="756.60" y2="290.3" stroke="#444" stroke-width="1.5"/><line x1="465.80" y1="337.0" x2="756.60" y2="337.0" stroke="#555" stroke-width="1.5"/><text transform="translate(469.4,299.40) scale(0.97,1)" font-size="8.7" font-weight="bold">eGFP-Stator/+FliL</text><text x="576.6" y="299.50" font-size="9.1" letter-spacing="0.12">0.67</text><text x="643.6" y="299.50" font-size="9.1" letter-spacing="0.05" text-anchor="middle">0.039859</text><text x="719.8" y="299.50" font-size="9.1" letter-spacing="0.05" text-anchor="middle">0.002258</text><text transform="translate(469.4,311.30) scale(0.97,1)" font-size="8.7" font-weight="bold">eGFP-Stator/ΔFliL</text><text x="576.6" y="311.40" font-size="9.1" letter-spacing="0.12">0.68</text><text x="643.6" y="311.40" font-size="9.1" letter-spacing="0.05" text-anchor="middle">0.040741</text><text x="719.8" y="311.40" font-size="9.1" letter-spacing="0.05" text-anchor="middle">0.003033</text><text transform="translate(469.4,323.10) scale(0.97,1)" font-size="8.7" font-weight="bold">Stator/eGFP-FliL</text><text x="576.6" y="323.20" font-size="9.1" letter-spacing="0.12">0.80</text><text x="643.6" y="323.20" font-size="9.1" letter-spacing="0.05" text-anchor="middle">0.039550</text><text x="719.8" y="323.20" font-size="9.1" letter-spacing="0.05" text-anchor="middle">0.000328</text><text transform="translate(469.4,335.00) scale(0.97,1)" font-size="8.7" font-weight="bold">ΔStator/eGFP-FliL</text><text x="576.6" y="335.10" font-size="9.1" letter-spacing="0.12">0.87</text><text x="643.6" y="335.10" font-size="9.1" letter-spacing="0.05" text-anchor="middle">0.038288</text><text x="719.8" y="335.10" font-size="9.1" letter-spacing="0.05" text-anchor="middle">0.001553</text><text x="576.4" y="287.4" font-size="9.4" font-weight="bold">α</text><text x="643.6" y="287.4" font-size="10.2" letter-spacing="0.35" font-family="Liberation Serif" text-anchor="middle"><tspan>D1 (</tspan><tspan font-style="italic" font-weight="bold">μm</tspan><tspan font-size="7.4" dy="-3.0" font-weight="bold">2</tspan><tspan dy="3.0" dx="0.6">/</tspan><tspan font-style="italic">s</tspan><tspan>)</tspan></text><text x="720.0" y="287.4" font-size="10.2" letter-spacing="0.35" font-family="Liberation Serif" text-anchor="middle"><tspan>D2 (</tspan><tspan font-style="italic" font-weight="bold">μm</tspan><tspan font-size="7.4" dy="-3.0" font-weight="bold">2</tspan><tspan dy="3.0" dx="0.6">/</tspan><tspan font-style="italic">s</tspan><tspan>)</tspan></text><text x="469.10" y="271.6" font-size="14.2" style="stroke:none">(F)</text></g></g></svg></body></html>
